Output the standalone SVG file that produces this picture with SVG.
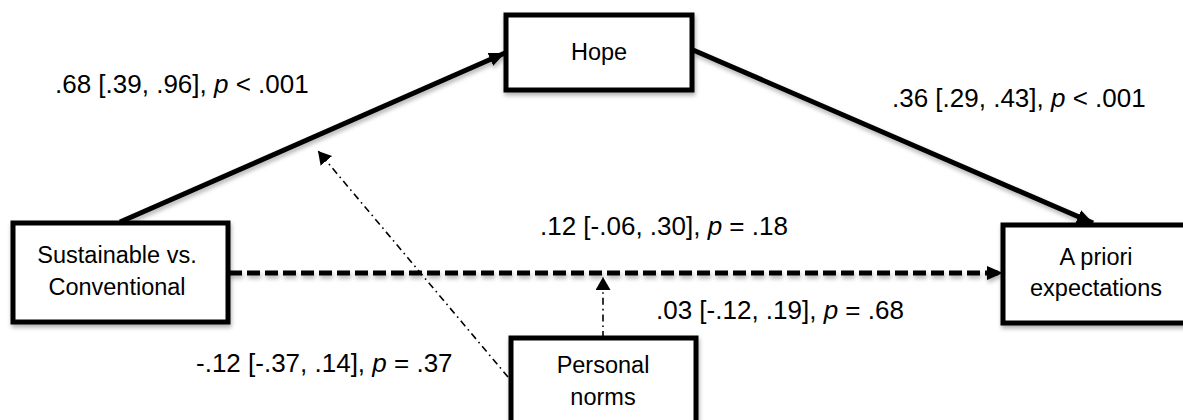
<svg xmlns="http://www.w3.org/2000/svg" width="1183" height="420" viewBox="0 0 1183 420">
  <style>
    .box { fill: #ffffff; stroke: #000000; stroke-width: 5; }
    .nl { font-family: "Liberation Sans", Arial, sans-serif; font-size: 23.5px; fill: #000; text-anchor: middle; }
    .el { font-family: "Liberation Sans", Arial, sans-serif; font-size: 26px; fill: #000; }
    .solid { fill: none; stroke: #000; stroke-width: 5; }
    .dashed { fill: none; stroke: #000; stroke-width: 5; stroke-dasharray: 13 5; }
    .dashdot { fill: none; stroke: #000; stroke-width: 1.6; stroke-dasharray: 7 4 1.6 4; }
  </style>
  <defs>
    <filter id="sh" filterUnits="userSpaceOnUse" x="-50" y="-50" width="1300" height="550">
      <feDropShadow dx="1" dy="3" stdDeviation="2" flood-color="#000" flood-opacity="0.3"/>
    </filter>
    <marker id="ahBig" markerUnits="userSpaceOnUse" markerWidth="18" markerHeight="16" refX="16" refY="7" orient="auto">
      <path d="M0,0 L16,7 L0,14 Z" fill="#000"/>
    </marker>
    <marker id="ahSmall" markerUnits="userSpaceOnUse" markerWidth="16" markerHeight="16" refX="13" refY="7.5" orient="auto">
      <path d="M0,0 L13,7.5 L0,15 Z" fill="#000"/>
    </marker>
  </defs>

  <g id="connectors">
    <line class="solid" filter="url(#sh)" x1="120" y1="222" x2="505" y2="53" marker-end="url(#ahBig)"/>
    <line class="solid" filter="url(#sh)" x1="693" y1="50" x2="1093" y2="223" marker-end="url(#ahBig)"/>
    <line class="dashed" filter="url(#sh)" x1="229" y1="273" x2="1003" y2="273" marker-end="url(#ahBig)"/>
    <line class="dashdot" x1="603" y1="338" x2="603" y2="277" marker-end="url(#ahSmall)"/>
    <line class="dashdot" x1="508" y1="377" x2="318" y2="151" marker-end="url(#ahSmall)"/>
  </g>

  <g id="labels">
    <text class="el" x="55" y="93">.68 [.39, .96], <tspan font-style="italic">p</tspan> &lt; .001</text>
    <text class="el" x="892" y="107">.36 [.29, .43], <tspan font-style="italic">p</tspan> &lt; .001</text>
    <text class="el" x="540" y="235">.12 [-.06, .30], <tspan font-style="italic">p</tspan> = .18</text>
    <text class="el" x="656" y="319">.03 [-.12, .19], <tspan font-style="italic">p</tspan> = .68</text>
    <text class="el" x="196" y="372">-.12 [-.37, .14], <tspan font-style="italic">p</tspan> = .37</text>
  </g>

  <g id="node-hope">
    <rect class="box" filter="url(#sh)" x="506" y="15" width="186" height="75"/>
    <text class="nl" x="599" y="60">Hope</text>
  </g>

  <g id="node-sustainable">
    <rect class="box" filter="url(#sh)" x="13" y="223" width="215" height="99"/>
    <text class="nl" x="117" y="263">Sustainable vs.</text>
    <text class="nl" x="117" y="295">Conventional</text>
  </g>

  <g id="node-apriori">
    <rect class="box" filter="url(#sh)" x="1003" y="225" width="186" height="98"/>
    <text class="nl" x="1096" y="265">A priori</text>
    <text class="nl" x="1096" y="296">expectations</text>
  </g>

  <g id="node-norms">
    <rect class="box" filter="url(#sh)" x="511" y="338" width="185" height="100"/>
    <text class="nl" x="603" y="373">Personal</text>
    <text class="nl" x="603" y="405">norms</text>
  </g>
</svg>
